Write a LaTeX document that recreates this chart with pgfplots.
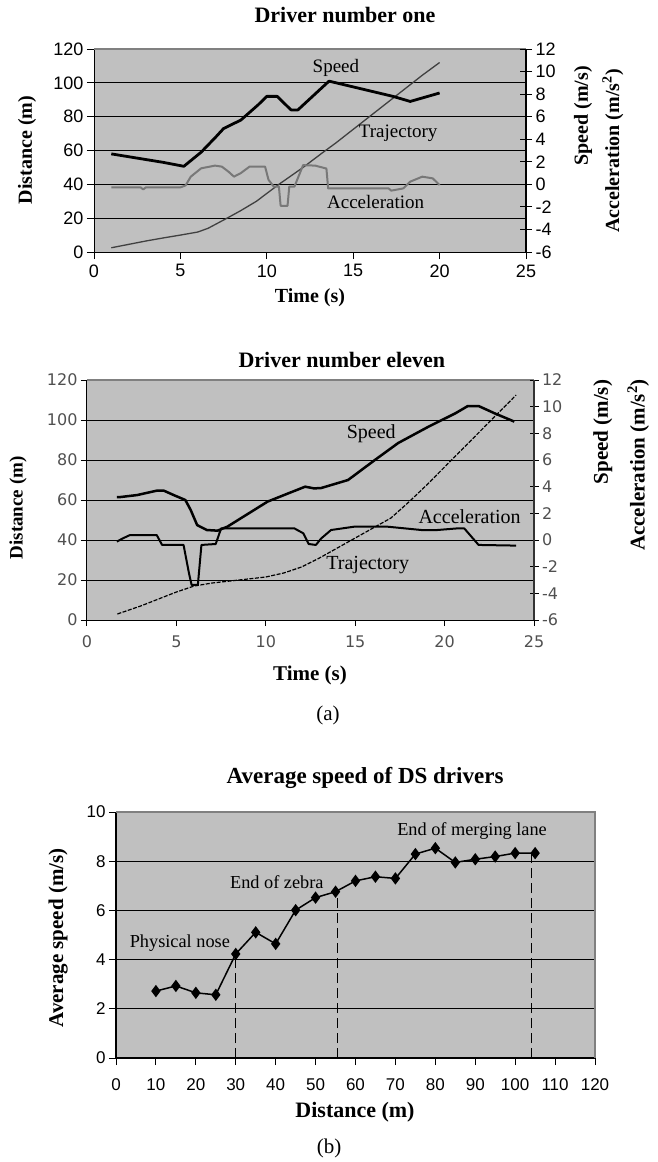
\documentclass[border=0pt]{standalone}
\usepackage{pgfplots}
\pgfplotsset{compat=1.18}
\usepackage{fontspec}
\setmainfont{Liberation Serif}
\newfontfamily\sansA{Liberation Sans}
\newfontfamily\sansB{DejaVu Sans}
\definecolor{plotbg}{RGB}{192,192,192}
\definecolor{bordergray}{RGB}{128,128,128}
\definecolor{accgray}{RGB}{120,120,120}
\definecolor{tickgray}{RGB}{80,80,80}
\newcommand{\fs}[1]{\fontsize{#1}{#1}\selectfont}
\begin{document}
\begin{tikzpicture}
\useasboundingbox (0,0) rectangle (658pt,-1162pt);

% ================= Chart 1 : primary axis =================
\begin{axis}[
  at={(94pt,-252pt)}, anchor=south west,
  scale only axis, width=432pt, height=203pt,
  xmin=0, xmax=25, ymin=0, ymax=120,
  xtick={0,5,10,15,20,25}, xticklabels={0,5,10,15,20,25},
  ytick={0,20,40,60,80,100,120}, yticklabels={0,20,40,60,80,100,120},
  axis x line*=bottom, axis y line*=left,
  axis line style={black, line width=1pt, -},
  tick align=outside, major tick length=7pt,
  tick style={black, line width=1pt},
  ymajorgrids, grid style={black, line width=0.9pt},
  axis background/.style={fill=plotbg},
  ticklabel style={font=\sansA\fs{18}},
  xticklabel style={yshift=-2pt},
  clip=false,
  after end axis/.code={\draw[bordergray, line width=1.2pt] (rel axis cs:0,1) -- (rel axis cs:1,1);},
]
% Trajectory (m)
\addplot[black!75, line width=1.3pt] coordinates {
(1,2.5) (2,4.5) (3,6.5) (4,8.3) (5,10) (6,11.8) (6.6,14) (7.7,20) (8.5,24.5) (9.4,30)
(10.7,40) (12.1,50) (13.2,58.5) (14,64.5) (15,72.5) (16,80.5) (17,88.5) (18,96.5) (19,104.5) (20,112)
};
\node[font=\fs{19}] at (axis cs:14,109) {Speed};
\node[font=\fs{19}] at (axis cs:17.6,70) {Trajectory};
\node[font=\fs{19}] at (axis cs:16.3,29.6) {Acceleration};
\node[font=\bfseries\fs{22}] at (rel axis cs:0.581,1.167) {Driver number one};
\node[font=\bfseries\fs{20}] at (rel axis cs:0.5,-0.227) {Time (s)};
\node[font=\bfseries\fs{20}, rotate=90] at (rel axis cs:-0.155,0.502) {Distance (m)};
\node[font=\bfseries\fs{20}, rotate=90] at (rel axis cs:1.132,0.67) {Speed (m/s)};
\node[font=\bfseries\fs{20}, rotate=90] at (rel axis cs:1.201,0.4975) {Acceleration (m/s\textsuperscript{2})};
\end{axis}

% ================= Chart 1 : secondary axis =================
\begin{axis}[
  at={(94pt,-252pt)}, anchor=south west,
  scale only axis, width=432pt, height=203pt,
  xmin=0, xmax=25, ymin=-6, ymax=12,
  axis x line=none, axis y line*=right,
  axis line style={black, line width=1.2pt, -},
  ytick={-6,-4,-2,0,2,4,6,8,10,12}, yticklabels={-6,-4,-2,0,2,4,6,8,10,12},
  tick align=center, major tick length=12pt,
  tick style={black, line width=1pt},
  ticklabel style={font=\sansA\fs{18}},
  clip=false,
]
% Speed (m/s)
\addplot[black, line width=2.8pt, line join=round] coordinates {
(1,2.7) (2,2.45) (3,2.2) (4,1.95) (5.2,1.6) (6.2,2.85) (7.05,4.2) (7.5,4.95) (8.5,5.7)
(9.5,7.05) (10.0,7.8) (10.6,7.8) (11.4,6.6) (11.8,6.6) (13.6,9.15) (17.3,7.8) (18.3,7.35) (20,8.1)
};
% Acceleration (m/s^2)
\addplot[accgray, line width=2pt, line join=round] coordinates {
(1,-0.27) (2.7,-0.27) (2.85,-0.45) (3.0,-0.27) (4,-0.27) (5.0,-0.27) (5.3,-0.1) (5.6,0.68)
(6.2,1.42) (7.0,1.66) (7.4,1.57) (7.8,1.1) (8.1,0.68) (8.5,1.0) (9.0,1.57) (9.9,1.57)
(10.1,0.4) (10.4,-0.2) (10.7,-0.2) (10.8,-1.9) (11.2,-1.9) (11.3,-0.2) (11.6,-0.2) (12.1,1.7)
(12.8,1.66) (13.45,1.4) (13.55,-0.36) (17.05,-0.36) (17.2,-0.56) (17.9,-0.36) (18.3,0.24)
(19.0,0.68) (19.6,0.53) (20.0,-0.06)
};
\end{axis}

% ================= Chart 2 : primary axis =================
\begin{axis}[
  at={(87pt,-620pt)}, anchor=south west,
  scale only axis, width=447pt, height=240pt,
  xmin=0, xmax=25, ymin=0, ymax=120,
  xtick={0,5,10,15,20,25}, xticklabels={0,5,10,15,20,25},
  ytick={0,20,40,60,80,100,120}, yticklabels={0,20,40,60,80,100,120},
  axis x line*=bottom, axis y line*=left,
  axis line style={black, line width=1pt, -},
  tick align=outside, major tick length=6pt,
  tick style={black, line width=1pt},
  ymajorgrids, grid style={black, line width=0.9pt},
  axis background/.style={fill=plotbg},
  ticklabel style={font=\sansB\fs{16}, text=tickgray},
  xticklabel style={yshift=-6pt},
  clip=false,
  after end axis/.code={\draw[bordergray, line width=1.2pt] (rel axis cs:0,1) -- (rel axis cs:1,1);},
]
% Trajectory (m)
\addplot[black, line width=1.2pt, dash pattern=on 4pt off 1.5pt] coordinates {
(1.7,3) (3,7) (4,10.5) (5,14) (6,17) (7,18.5) (8,19.5) (9,20.5) (10,21.5) (11,23.5) (12,26.5)
(13,31) (14,36) (15,41) (16,46) (17,51) (18,59) (19,67.5) (20,76.5) (21,85.5) (22,94.5)
(23,103.5) (24,112.5)
};
\node[font=\fs{20}] at (axis cs:15.9,93) {Speed};
\node[font=\fs{20}] at (axis cs:21.4,51.5) {Acceleration};
\node[font=\fs{20}] at (axis cs:15.7,27.5) {Trajectory};
\node[font=\bfseries\fs{22}] at (rel axis cs:0.570,1.083) {Driver number eleven};
\node[font=\bfseries\fs{21}] at (rel axis cs:0.499,-0.229) {Time (s)};
\node[font=\bfseries\fs{19}, rotate=90] at (rel axis cs:-0.154,0.467) {Distance (m)};
\node[font=\bfseries\fs{21}, rotate=90] at (rel axis cs:1.154,0.783) {Speed (m/s)};
\node[font=\bfseries\fs{21}, rotate=90] at (rel axis cs:1.233,0.646) {Acceleration (m/s\textsuperscript{2})};
\node[font=\fs{21}] at (rel axis cs:0.539,-0.396) {(a)};
\end{axis}

% ================= Chart 2 : secondary axis =================
\begin{axis}[
  at={(87pt,-620pt)}, anchor=south west,
  scale only axis, width=447pt, height=240pt,
  xmin=0, xmax=25, ymin=-6, ymax=12,
  axis x line=none, axis y line*=right,
  axis line style={black!80, line width=1.2pt, -},
  ytick={-6,-4,-2,0,2,4,6,8,10,12}, yticklabels={-6,-4,-2,0,2,4,6,8,10,12},
  tick align=center, major tick length=9pt,
  tick style={black, line width=1pt},
  ticklabel style={font=\sansB\fs{16}, text=tickgray},
  clip=false,
]
% Speed (m/s)
\addplot[black, line width=2.5pt, line join=round] coordinates {
(1.67,3.22) (1.85,3.22) (2.8,3.37) (3.9,3.7) (4.3,3.7) (4.85,3.37) (5.5,3.0) (5.8,2.25)
(6.16,1.12) (6.7,0.75) (7.3,0.7) (7.85,1.0) (10.1,2.88) (12.2,4.0) (12.7,3.87) (13.1,3.9)
(14.6,4.5) (16.1,6.0) (17.4,7.27) (19.1,8.5) (20.6,9.5) (21.3,10.05) (21.9,10.05) (22.8,9.5) (23.9,8.88)
};
% Acceleration (m/s^2)
\addplot[black, line width=2pt, line join=round] coordinates {
(1.67,-0.12) (2.0,0.12) (2.4,0.37) (3.9,0.37) (4.2,-0.37) (5.4,-0.37) (5.7,-2.47) (5.85,-3.37)
(6.2,-3.37) (6.4,-0.37) (7.2,-0.3) (7.5,0.87) (11.6,0.87) (12.1,0.5) (12.4,-0.3) (12.8,-0.37)
(13.1,0.12) (13.65,0.75) (14.95,1.0) (16.8,1.0) (18.7,0.75) (19.6,0.75) (20.7,0.87) (21.1,0.87)
(21.9,-0.37) (24.0,-0.42)
};
\end{axis}

% ================= Chart 3 =================
\begin{axis}[
  at={(116pt,-1058pt)}, anchor=south west,
  scale only axis, width=479pt, height=246pt,
  xmin=0, xmax=120, ymin=0, ymax=10,
  xtick={0,10,20,30,40,50,60,70,80,90,100,110,120},
  xticklabels={0,10,20,30,40,50,60,70,80,90,100,110,120},
  ytick={0,2,4,6,8,10}, yticklabels={0,2,4,6,8,10},
  axis x line*=bottom, axis y line*=left,
  axis line style={black, line width=1.2pt, -},
  tick align=outside, major tick length=7pt,
  tick style={black, line width=1pt},
  ymajorgrids, grid style={black, line width=0.9pt},
  axis background/.style={fill=plotbg},
  ticklabel style={font=\sansA\fs{17}},
  xticklabel style={yshift=-10pt},
  clip=false,
  after end axis/.code={\draw[bordergray, line width=1.6pt] (rel axis cs:0,1) -- (rel axis cs:1,1) -- (rel axis cs:1,0);},
]
\addplot[black, line width=1pt, dash pattern=on 10pt off 5pt] coordinates {(30,0) (30,4.23)};
\addplot[black, line width=1pt, dash pattern=on 10pt off 5pt] coordinates {(55.5,0) (55.5,6.76)};
\addplot[black, line width=1pt, dash pattern=on 10pt off 5pt] coordinates {(104,0) (104,8.33)};
\addplot[black, line width=1.5pt, mark=diamond*, mark size=5pt, mark options={solid, fill=black}] coordinates {
(10,2.72) (15,2.93) (20,2.65) (25,2.57) (30,4.23) (35,5.11) (40,4.64) (45,6.01) (50,6.52)
(55,6.76) (60,7.2) (65,7.37) (70,7.3) (75,8.29) (80,8.53) (85,7.95) (90,8.08) (95,8.19)
(100,8.33) (105,8.33)
};
\node[font=\fs{18.3}] at (axis cs:16,4.65) {Physical nose};
\node[font=\fs{18.3}] at (axis cs:40.3,7.14) {End of zebra};
\node[font=\fs{18.3}] at (axis cs:89.2,9.22) {End of merging lane};
\node[font=\bfseries\fs{23}] at (rel axis cs:0.52,1.138) {Average speed of DS drivers};
\node[font=\bfseries\fs{22}] at (rel axis cs:0.499,-0.22) {Distance (m)};
\node[font=\bfseries\fs{21}, rotate=90] at (rel axis cs:-0.121,0.488) {Average speed (m/s)};
\node[font=\fs{21}] at (rel axis cs:0.445,-0.366) {(b)};
\end{axis}
\end{tikzpicture}
\end{document}
